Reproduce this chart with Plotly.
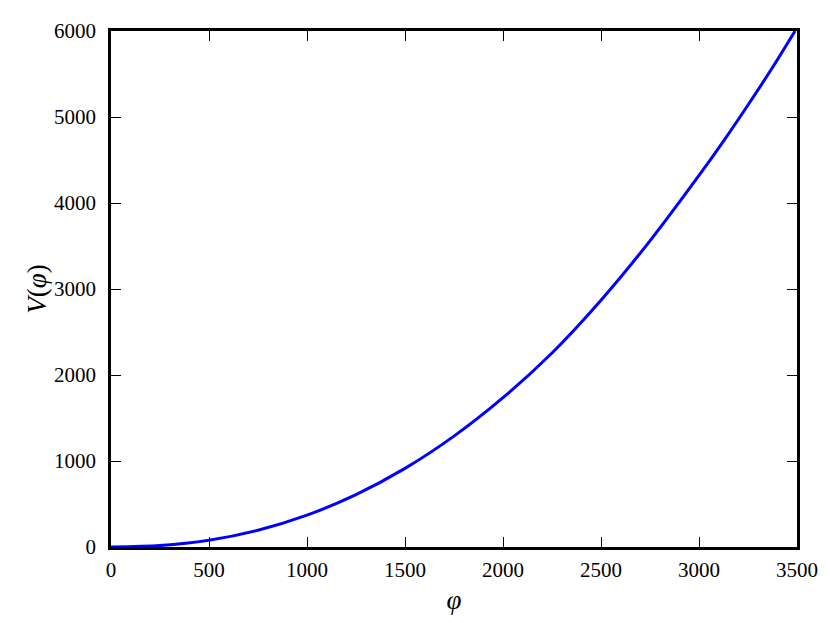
import plotly.graph_objects as go

# values
phi = [0, 250, 500, 750, 1000, 1250, 1500, 1750, 2000, 2250, 2500, 2750, 3000, 3125, 3250, 3375, 3490]
V = [0, 17, 79, 195, 370, 609, 914, 1289, 1736, 2256, 2870, 3560, 4320, 4720, 5140, 5575, 6000]

x_ticks = [0, 500, 1000, 1500, 2000, 2500, 3000, 3500]
y_ticks = [0, 1000, 2000, 3000, 4000, 5000, 6000]

font_family = "Liberation Serif, DejaVu Serif, serif"

fig = go.Figure()
fig.add_trace(
    go.Scatter(
        x=phi,
        y=V,
        mode="lines",
        line=dict(color="#0000ff", width=3, shape="spline", smoothing=0.8),
        showlegend=False,
    )
)

axis_common = dict(
    showgrid=False,
    zeroline=False,
    showline=True,
    linecolor="black",
    linewidth=2.5,
    mirror="allticks",
    ticks="inside",
    ticklen=10,
    tickwidth=1,
    tickcolor="black",
    tickfont=dict(family=font_family, size=21, color="black"),
)

fig.update_xaxes(
    range=[0, 3500],
    tickvals=x_ticks,
    ticktext=[str(t) for t in x_ticks],
    title=dict(text="<i>φ</i>", font=dict(family=font_family, size=27, color="black"), standoff=10),
    ticklabelstandoff=2,
    **axis_common,
)
fig.update_yaxes(
    range=[0, 6000],
    tickvals=y_ticks,
    ticktext=[str(t) for t in y_ticks],
    title=dict(text="<i>V</i>(<i>φ</i>)", font=dict(family=font_family, size=27, color="black"), standoff=0),
    ticklabelstandoff=8,
    **axis_common,
)

fig.update_layout(
    width=830,
    height=623,
    margin=dict(l=111, r=33, t=31, b=76),
    plot_bgcolor="white",
    paper_bgcolor="white",
)

# drop the default page margin so the figure sits at the window's corner
fig.write_html(
    "out.html",
    config={"displayModeBar": False},
    post_script="document.body.style.margin='0px';document.body.style.overflow='hidden';",
)
